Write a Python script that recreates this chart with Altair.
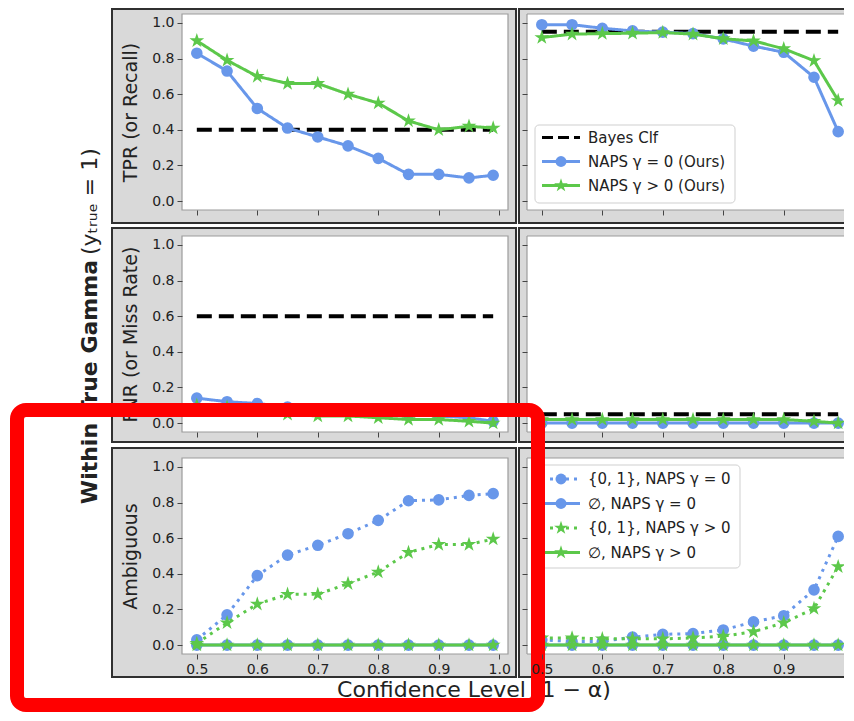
import math
import altair as alt
import pandas as pd

# ---------------- data ----------------
conf = [0.5, 0.55, 0.6, 0.65, 0.7, 0.75, 0.8, 0.85, 0.9, 0.95, 0.99]
x_ticks = [0.5, 0.6, 0.7, 0.8, 0.9, 1.0]
y_ticks = [0.0, 0.2, 0.4, 0.6, 0.8, 1.0]

row_titles = ["TPR (or Recall)", "FNR (or Miss Rate)", "Ambiguous"]

bayes_tpr = [0.40, 0.95]          # left, right column
bayes_fnr = [0.60, 0.05]

tpr_g0_left = [0.83, 0.73, 0.52, 0.41, 0.36, 0.31, 0.24, 0.15, 0.15, 0.13, 0.145]
tpr_gp_left = [0.90, 0.79, 0.70, 0.66, 0.66, 0.60, 0.55, 0.45, 0.40, 0.42, 0.41]
tpr_g0_right = [0.99, 0.99, 0.97, 0.955, 0.948, 0.94, 0.91, 0.87, 0.835, 0.695, 0.39]
tpr_gp_right = [0.918, 0.937, 0.94, 0.942, 0.946, 0.937, 0.911, 0.899, 0.855, 0.788, 0.564]

fnr_g0_left = [0.14, 0.12, 0.11, 0.09, 0.08, 0.07, 0.06, 0.05, 0.04, 0.03, 0.01]
fnr_gp_left = [0.10, 0.09, 0.07, 0.05, 0.04, 0.04, 0.03, 0.02, 0.02, 0.01, 0.0]
fnr_g0_right = [0.0, 0.0, 0.0, 0.0, 0.0, 0.0, 0.0, 0.0, 0.0, 0.0, 0.0]
fnr_gp_right = [0.02, 0.02, 0.02, 0.02, 0.02, 0.02, 0.02, 0.02, 0.02, 0.01, 0.0]

amb_g0_left = [0.03, 0.17, 0.39, 0.505, 0.56, 0.625, 0.70, 0.81, 0.815, 0.84, 0.85]
amb_gp_left = [0.01, 0.125, 0.23, 0.285, 0.285, 0.345, 0.41, 0.52, 0.565, 0.565, 0.595]
emp_g0_left = [0.0, 0.0, 0.0, 0.0, 0.0, 0.0, 0.0, 0.0, 0.0, 0.0, 0.0]
emp_gp_left = [0.0, 0.0, 0.0, 0.0, 0.0, 0.0, 0.0, 0.0, 0.0, 0.0, 0.0]
amb_g0_right = [0.03, 0.02, 0.02, 0.045, 0.06, 0.065, 0.085, 0.13, 0.165, 0.31, 0.61]
amb_gp_right = [0.04, 0.04, 0.035, 0.035, 0.035, 0.04, 0.05, 0.075, 0.125, 0.205, 0.44]
emp_g0_right = [0.0, 0.0, 0.0, 0.0, 0.0, 0.0, 0.0, 0.0, 0.0, 0.0, 0.0]
emp_gp_right = [0.0, 0.0, 0.0, 0.0, 0.0, 0.0, 0.0, 0.0, 0.0, 0.0, 0.0]

legend_top = ["Bayes Clf", "NAPS γ = 0 (Ours)", "NAPS γ > 0 (Ours)"]
legend_bottom = ["{0, 1}, NAPS γ = 0", "∅, NAPS γ = 0", "{0, 1}, NAPS γ > 0", "∅, NAPS γ > 0"]

# ---------------- styling ----------------
BLUE = "#6897ea"
GREEN = "#5cc84a"
BOX_FILL = "#d9d9d9"
BOX_EDGE = "#303030"
FRAME = "#9c9c9c"
TEXT = "#222222"
FONT = "DejaVu Sans"

W_L, W_R, H = 326, 317, 196
PX_PER_UNIT = W_L / (1.0145 - 0.4755)
XDOM_L = [0.4755, 1.0145]
XDOM_R = [0.4755, 0.4755 + W_R / PX_PER_UNIT]
YDOM = [-0.05, 1.05]
DOTTED = [3, 5]
SOLID = [1, 0]
BAYES_DASH = [15, 7]


def star_path(scale):
    pts = []
    for k in range(10):
        r = scale if k % 2 == 0 else scale * 0.382
        a = math.radians(-90 + 36 * k)
        pts.append(f"{r * math.cos(a):.4f},{r * math.sin(a):.4f}")
    return "M" + "L".join(pts) + "Z"


STAR = star_path(1.0)
ONE = pd.DataFrame({"k": [0]})


def deco_rect(x1, x2, y1, y2, **kw):
    return alt.Chart(ONE).mark_rect(**kw).encode(
        x=alt.value(x1), x2=alt.value(x2), y=alt.value(y1), y2=alt.value(y2))


def hrule(x1, x2, y, **kw):
    return alt.Chart(ONE).mark_rule(**kw).encode(x=alt.value(x1), x2=alt.value(x2), y=alt.value(y))


def vrule(x, y1, y2, **kw):
    return alt.Chart(ONE).mark_rule(**kw).encode(x=alt.value(x), y=alt.value(y1), y2=alt.value(y2))


def text_mark(txt, x, y, **kw):
    return alt.Chart(ONE).mark_text(text=txt, font=FONT, color=TEXT, **kw).encode(
        x=alt.value(x), y=alt.value(y))


def marker_mark(kind, x, y, color, size_circle=120, size_star=210):
    if kind == "circle":
        m = alt.Chart(ONE).mark_point(shape="circle", filled=True, size=size_circle, color=color, opacity=1)
    else:
        m = alt.Chart(ONE).mark_point(shape=STAR, filled=True, size=size_star, color=color, opacity=1)
    return m.encode(x=alt.value(x), y=alt.value(y))


def legend_layers(entries, box, y0, dy):
    """entries: list of (label, color, marker or None, dash)"""
    bx1, bx2, by1, by2 = box
    out = [deco_rect(bx1, bx2, by1, by2, fill="white", stroke="#cfcfcf", strokeWidth=1, cornerRadius=4)]
    sx1, sx2 = bx1 + 7, bx1 + 45
    for i, (label, color, marker, dash) in enumerate(entries):
        y = y0 + i * dy
        out.append(hrule(sx1, sx2, y, color=color, strokeWidth=3, strokeDash=dash))
        if marker:
            out.append(marker_mark(marker, (sx1 + sx2) / 2, y, color))
        out.append(text_mark(label, sx2 + 8, y, align="left", baseline="middle", fontSize=15))
    return out


def panel(row, col, series, bayes=None, extra=None):
    W = W_L if col == 0 else W_R
    clip = col == 1
    xaxis = alt.Axis(values=x_ticks, format=".1f", labels=(row == 2), title=None,
                     grid=False, domain=False, tickSize=5, tickColor="#444",
                     labelFont=FONT, labelFontSize=14, labelColor=TEXT,
                     labelPadding=3, labelOverlap=False, zindex=1)
    if col == 0:
        yaxis = alt.Axis(values=y_ticks, format=".1f", title=row_titles[row], grid=False,
                         domain=False, tickSize=5, tickColor="#444",
                         labelFont=FONT, labelFontSize=14, labelColor=TEXT, labelPadding=3,
                         titleFont=FONT, titleFontSize=19, titleFontWeight="normal",
                         titleColor=TEXT, titlePadding=11, zindex=1)
    else:
        yaxis = alt.Axis(values=y_ticks, labels=False, title=None, grid=False,
                         domain=False, tickSize=5, tickColor="#444", zindex=1)
    xs = alt.Scale(domain=XDOM_L if col == 0 else XDOM_R, nice=False, zero=False)
    ys = alt.Scale(domain=YDOM, nice=False, zero=False)

    by1, by2 = [(-5, H + 13), (-8, H + 10), (-10, H + 23)][row]
    if col == 0:
        layers = [
            deco_rect(-70, W + 8, by1, by2, fill=BOX_FILL, stroke=BOX_EDGE, strokeWidth=2),
            deco_rect(0, W, 0, H, fill="white", stroke=FRAME, strokeWidth=1.2),
        ]
    else:
        # the reference is cut at the right edge: boxes are open on that side
        layers = [
            deco_rect(-8, W, by1, by2, fill=BOX_FILL),
            hrule(-9, W, by1, color=BOX_EDGE, strokeWidth=2),
            hrule(-9, W, by2, color=BOX_EDGE, strokeWidth=2),
            vrule(-8, by1, by2, color=BOX_EDGE, strokeWidth=2),
            deco_rect(0, W, 0, H, fill="white"),
            hrule(0, W, 0, color=FRAME, strokeWidth=1.2),
            hrule(0, W, H, color=FRAME, strokeWidth=1.2),
            vrule(0, 0, H, color=FRAME, strokeWidth=1.2),
        ]
    if bayes is not None:
        bdf = pd.DataFrame({"x0": [conf[0]], "x1": [conf[-1]], "val": [bayes]})
        layers.append(alt.Chart(bdf).mark_rule(color="black", strokeWidth=4, strokeDash=BAYES_DASH,
                                               clip=clip).encode(
            x=alt.X("x0:Q", scale=xs, axis=xaxis), x2="x1:Q",
            y=alt.Y("val:Q", scale=ys, axis=yaxis)))
    for vals, color, marker, dash in series:
        df = pd.DataFrame({"conf": conf, "val": vals})
        enc = dict(x=alt.X("conf:Q", scale=xs, axis=xaxis), y=alt.Y("val:Q", scale=ys, axis=yaxis))
        layers.append(alt.Chart(df).mark_line(color=color, strokeWidth=3, strokeDash=dash,
                                              clip=clip).encode(**enc))
        if marker == "circle":
            layers.append(alt.Chart(df).mark_point(shape="circle", filled=True, size=135, clip=clip,
                                                   color=color, opacity=1).encode(**enc))
        else:
            layers.append(alt.Chart(df).mark_point(shape=STAR, filled=True, size=240, clip=clip,
                                                   color=color, opacity=1).encode(**enc))
    if extra:
        layers.extend(extra)
    return alt.layer(*layers).properties(width=W, height=H)


top_leg = legend_layers(
    [(legend_top[0], "black", None, [11, 5]),
     (legend_top[1], BLUE, "circle", SOLID),
     (legend_top[2], GREEN, "star", SOLID)],
    box=(8, 208, 111, 189), y0=123.5, dy=24)
bottom_leg = legend_layers(
    [(legend_bottom[0], BLUE, "circle", DOTTED),
     (legend_bottom[1], BLUE, "circle", SOLID),
     (legend_bottom[2], GREEN, "star", DOTTED),
     (legend_bottom[3], GREEN, "star", SOLID)],
    box=(8, 213, 7, 110), y0=21, dy=24.5)

p00 = panel(0, 0, [(tpr_g0_left, BLUE, "circle", SOLID), (tpr_gp_left, GREEN, "star", SOLID)],
            bayes=bayes_tpr[0])
p01 = panel(0, 1, [(tpr_g0_right, BLUE, "circle", SOLID), (tpr_gp_right, GREEN, "star", SOLID)],
            bayes=bayes_tpr[1], extra=top_leg)

within_bold = text_mark("Within True Gamma", -92, 24, angle=270, align="right", baseline="middle",
                        fontSize=22, fontWeight="bold")
within_sub = text_mark("(yₜᵣᵤₑ = 1)", -92, 19, angle=270, align="left", baseline="middle",
                       fontSize=22)
p10 = panel(1, 0, [(fnr_g0_left, BLUE, "circle", SOLID), (fnr_gp_left, GREEN, "star", SOLID)],
            bayes=bayes_fnr[0], extra=[within_bold, within_sub])
p11 = panel(1, 1, [(fnr_g0_right, BLUE, "circle", SOLID), (fnr_gp_right, GREEN, "star", SOLID)],
            bayes=bayes_fnr[1])

xtitle = text_mark("Confidence Level (1 − α)", 292, 232, align="center", baseline="middle", fontSize=22)
p20 = panel(2, 0, [(amb_g0_left, BLUE, "circle", DOTTED), (emp_g0_left, BLUE, "circle", SOLID),
                   (amb_gp_left, GREEN, "star", DOTTED), (emp_gp_left, GREEN, "star", SOLID)],
            extra=[xtitle])
red_box = deco_rect(-510, 11, -48, 247, fill="white", fillOpacity=0, stroke="#ff0000",
                    strokeWidth=14, cornerRadius=9)
p21 = panel(2, 1, [(amb_g0_right, BLUE, "circle", DOTTED), (emp_g0_right, BLUE, "circle", SOLID),
                   (amb_gp_right, GREEN, "star", DOTTED), (emp_gp_right, GREEN, "star", SOLID)],
            extra=bottom_leg + [red_box])

chart = alt.concat(
    p00, p01, p10, p11, p20, p21, columns=2, spacing={"row": 26, "column": 19}, bounds="flush"
).properties(
    padding={"left": 2, "top": 0, "right": 0, "bottom": 0}, background="white"
).configure_view(stroke=None)

chart.save("out.html", embed_options={"renderer": "svg", "actions": False})
